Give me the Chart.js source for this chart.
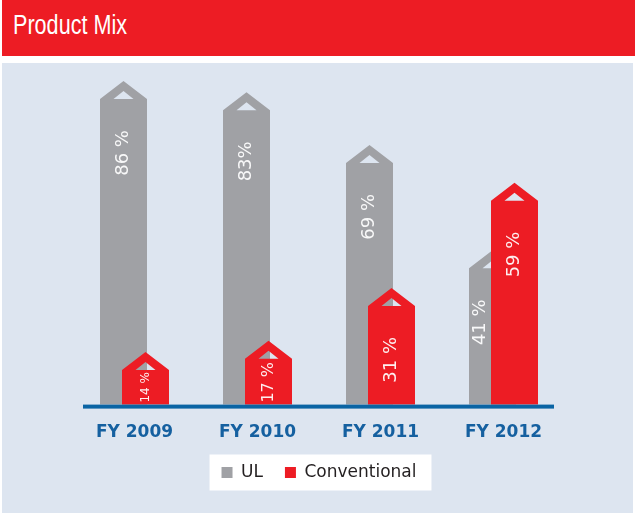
<!DOCTYPE html>
<html>
<head>
    <script src="https://cdn.jsdelivr.net/npm/chart.js"></script>
    <style>
        body {
            margin: 0;
            width: 637px;
            height: 518px;
            background: #ffffff;
            position: relative;
            overflow: hidden;
        }
        .header {
            position: absolute;
            left: 2px;
            top: 0;
            width: 633px;
            height: 56px;
            background: #ED1C24;
        }
        .header h1 {
            margin: 0;
            position: absolute;
            left: 11px;
            top: 9px;
            font-family: "Liberation Sans", sans-serif;
            font-weight: normal;
            font-size: 27px;
            color: #ffffff;
            line-height: 32px;
            transform: scaleX(0.8);
            transform-origin: left center;
        }
        .panel {
            position: absolute;
            left: 2px;
            top: 63px;
            width: 631px;
            height: 450px;
            background: #DDE5F0;
        }
    </style>
</head>
<body>
    <div class="header"><h1>Product Mix</h1></div>
    <div class="panel">
        <canvas id="mixChart"></canvas>
    </div>
    <script>
        const years = ['FY 2009', 'FY 2010', 'FY 2011', 'FY 2012'];
        const ulShare = [86, 83, 69, 41];
        const convShare = [14, 17, 31, 59];
        const ulLabels = ['86 %', '83%', '69 %', '41 %'];
        const convLabels = ['14 %', '17 %', '31 %', '59 %'];

        const GREY = '#A0A1A5';
        const RED = '#ED1C24';
        const ROOF = 18;

        // white box behind the legend
        const legendBox = {
            id: 'legendBox',
            beforeDraw(chart) {
                const boxes = chart.legend.legendHitBoxes;
                if (!boxes || !boxes.length) return;
                const first = boxes[0], last = boxes[boxes.length - 1];
                const mid = first.top + first.height / 2;
                const ctx = chart.ctx;
                ctx.save();
                ctx.fillStyle = '#ffffff';
                ctx.fillRect(first.left - 12, mid - 18, last.left + last.width + 15 - (first.left - 12), 36);
                ctx.restore();
            }
        };

        // bars drawn as arrows with a hollow roof, plus rotated value labels
        const arrowBars = {
            id: 'arrowBars',
            beforeDatasetsDraw(chart) {
                const ctx = chart.ctx;
                const area = chart.chartArea;
                const base = chart.scales.y.getPixelForValue(0);
                const shift = [-11, 11];
                const colors = [GREY, RED];
                const labels = [ulLabels, convLabels];
                const metas = [chart.getDatasetMeta(0), chart.getDatasetMeta(1)];

                function geom(ds, i) {
                    const bar = metas[ds].data[i];
                    const cx = bar.x + shift[ds];
                    const w = bar.width;
                    return { cx: cx, left: cx - w / 2, right: cx + w / 2, peak: bar.y, top: bar.y + ROOF };
                }

                metas.forEach(function (meta, ds) {
                    meta.data.forEach(function (bar, i) {
                        const g = geom(ds, i);
                        ctx.save();
                        ctx.fillStyle = colors[ds];
                        ctx.beginPath();
                        ctx.moveTo(g.left, base);
                        ctx.lineTo(g.left, g.top);
                        ctx.lineTo(g.cx, g.peak);
                        ctx.lineTo(g.right, g.top);
                        ctx.lineTo(g.right, base);
                        ctx.closePath();
                        ctx.moveTo(g.cx - 10, g.top);
                        ctx.lineTo(g.cx, g.top - 8);
                        ctx.lineTo(g.cx + 10, g.top);
                        ctx.closePath();
                        ctx.fill('evenodd');

                        // value label, reading upward
                        const text = labels[ds][i];
                        let size = 18;
                        ctx.font = size + 'px "DejaVu Sans"';
                        let tw = ctx.measureText(text).width;
                        let end = g.top + 31;
                        if (end + tw > base - 2) end = base - 2 - tw;
                        if (end < g.top + 1) {
                            size = Math.floor(size * (base - g.top - 3) / tw);
                            ctx.font = size + 'px "DejaVu Sans"';
                            tw = ctx.measureText(text).width;
                            end = base - 2 - tw;
                        }
                        let tx = g.cx;
                        if (ds === 0) {
                            const o = geom(1, i);
                            if (o.top < end + tw) tx = (g.left + o.left) / 2;
                        }
                        ctx.translate(tx, end);
                        ctx.rotate(-Math.PI / 2);
                        ctx.fillStyle = 'rgba(255,255,255,0.93)';
                        ctx.textAlign = 'right';
                        ctx.textBaseline = 'middle';
                        ctx.fillText(text, 0, 0);
                        ctx.restore();
                    });
                });

                // baseline
                ctx.save();
                ctx.fillStyle = '#0A64A4';
                ctx.fillRect(area.left + 10, base, area.right - area.left - 21, 4);
                ctx.restore();
                return false;
            }
        };

        new Chart(document.getElementById('mixChart'), {
            type: 'bar',
            data: {
                labels: years,
                datasets: [
                    { label: 'UL', data: ulShare, backgroundColor: GREY, borderWidth: 0, barThickness: 47, grouped: false },
                    { label: 'Conventional', data: convShare, backgroundColor: RED, borderWidth: 0, barThickness: 47, grouped: false }
                ]
            },
            options: {
                responsive: true,
                maintainAspectRatio: false,
                animation: false,
                layout: { padding: { left: 71, right: 68, top: 3, bottom: 22 } },
                plugins: {
                    tooltip: { enabled: false },
                    legend: {
                        position: 'bottom',
                        labels: {
                            boxWidth: 11,
                            boxHeight: 11,
                            padding: 22,
                            color: '#231F20',
                            font: { family: 'DejaVu Sans', size: 17 }
                        }
                    }
                },
                scales: {
                    x: {
                        grid: { display: false, drawTicks: false },
                        border: { display: false },
                        afterFit(scale) { scale.height -= 19; },
                        ticks: {
                            padding: 18,
                            color: '#1560A0',
                            font: { family: 'DejaVu Sans', size: 17, weight: 'bold' }
                        }
                    },
                    y: {
                        display: false,
                        min: 0,
                        max: 90
                    }
                }
            },
            plugins: [legendBox, arrowBars]
        });
    </script>
</body>
</html>
